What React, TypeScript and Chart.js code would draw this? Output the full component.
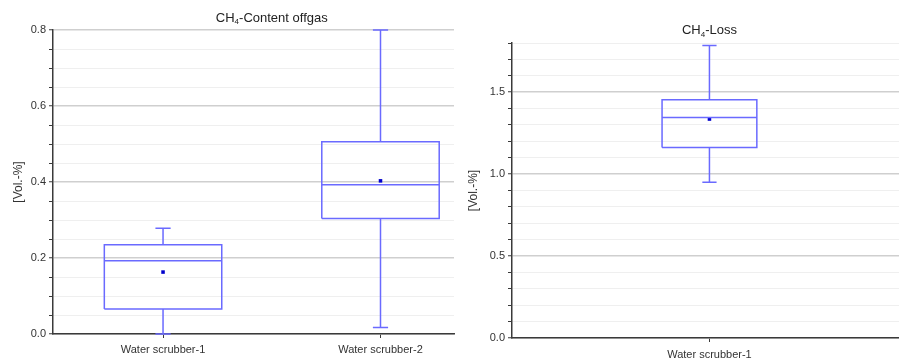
import React, { useEffect, useRef } from 'react';
import { Chart, registerables } from 'chart.js';

Chart.register(...registerables);

const FONT = '"Liberation Sans", Arial, Helvetica, sans-serif';

// ---------- Data: CH4-Content offgas ----------
const contentTitle = ['CH', '4', '-Content offgas'];
const contentCategories = ['Water scrubber-1', 'Water scrubber-2'];
const contentMin = [0.0, 0.017];
const contentQ1 = [0.066, 0.304];
const contentMedian = [0.193, 0.393];
const contentQ3 = [0.235, 0.506];
const contentMax = [0.278, 0.8];
const contentMean = [0.163, 0.403];
const contentYMax = 0.8;
const contentMinorStep = 0.05;
const contentMajorStep = 0.2;

// ---------- Data: CH4-Loss ----------
const lossTitle = ['CH', '4', '-Loss'];
const lossCategories = ['Water scrubber-1'];
const lossMin = [0.951];
const lossQ1 = [1.162];
const lossMedian = [1.346];
const lossQ3 = [1.454];
const lossMax = [1.785];
const lossMean = [1.336];
const lossYMax = 1.8;
const lossMinorStep = 0.1;
const lossMajorStep = 0.5;

const yTitle = '[Vol.-%]';

const BOX_COLOR = '#6a6aff';
const MEAN_COLOR = '#0000cc';
const AXIS_COLOR = '#3a3a3a';

type Pt = { x: number; y: number | null };

function buildSegments(
  min: number[], q1: number[], med: number[], q3: number[], max: number[],
  half: number, cap: number
): Pt[] {
  const pts: Pt[] = [];
  for (let i = 0; i < q1.length; i++) {
    const x = i + 1;
    const brk = () => pts.push({ x, y: null });
    pts.push({ x: x - half, y: q1[i] }, { x: x + half, y: q1[i] }, { x: x + half, y: q3[i] },
      { x: x - half, y: q3[i] }, { x: x - half, y: q1[i] });
    brk();
    pts.push({ x: x - half, y: med[i] }, { x: x + half, y: med[i] });
    brk();
    pts.push({ x, y: q3[i] }, { x, y: max[i] });
    brk();
    pts.push({ x: x - cap, y: max[i] }, { x: x + cap, y: max[i] });
    brk();
    pts.push({ x, y: q1[i] }, { x, y: min[i] });
    brk();
    pts.push({ x: x - cap, y: min[i] }, { x: x + cap, y: min[i] });
    brk();
  }
  return pts;
}

const titlePlugin = {
  id: 'subTitle',
  afterDraw(chart: any, _args: any, opts: any) {
    const { ctx, chartArea, scales } = chart;
    const parts: string[] = opts.parts;
    const cx = scales.x.getPixelForValue(opts.centerValue);
    const cy = chartArea.top - opts.offset;
    ctx.save();
    ctx.fillStyle = '#222';
    ctx.textBaseline = 'middle';
    ctx.textAlign = 'left';
    const mainFont = `13px ${FONT}`;
    const subFont = `8px ${FONT}`;
    ctx.font = mainFont;
    const w0 = ctx.measureText(parts[0]).width;
    const w2 = ctx.measureText(parts[2]).width;
    ctx.font = subFont;
    const w1 = ctx.measureText(parts[1]).width;
    let x = cx - (w0 + w1 + w2) / 2;
    ctx.font = mainFont;
    ctx.fillText(parts[0], x, cy);
    x += w0;
    ctx.font = subFont;
    ctx.fillText(parts[1], x, cy + 4);
    x += w1;
    ctx.font = mainFont;
    ctx.fillText(parts[2], x, cy);
    ctx.restore();
  },
};

interface PanelProps {
  title: string[];
  categories: string[];
  min: number[]; q1: number[]; med: number[]; q3: number[]; max: number[]; mean: number[];
  yMax: number; minorStep: number; majorStep: number;
  xMin: number; xMax: number; half: number; cap: number;
  width: number; height: number;
  padTop: number; padRight: number; yWidth: number; xHeight: number; yTitlePad: number; xLabelPad: number;
  titleOffset: number;
}

function BoxPanel(p: PanelProps) {
  const ref = useRef<HTMLCanvasElement | null>(null);
  useEffect(() => {
    if (!ref.current) return;
    const isMajor = (v: number) => Math.abs(v / p.majorStep - Math.round(v / p.majorStep)) < 1e-6;
    const segs = buildSegments(p.min, p.q1, p.med, p.q3, p.max, p.half, p.cap);
    const means = p.mean.map((m, i) => ({ x: i + 1, y: m }));
    const chart = new Chart(ref.current, {
      type: 'scatter',
      data: {
        datasets: [
          {
            data: segs as any,
            showLine: true,
            spanGaps: false,
            borderColor: BOX_COLOR,
            borderWidth: 1.5,
            pointRadius: 0,
            pointHoverRadius: 0,
            tension: 0,
            clip: false as any,
          },
          {
            data: means as any,
            showLine: false,
            pointStyle: 'rect',
            pointRadius: 2.5,
            pointBackgroundColor: MEAN_COLOR,
            pointBorderWidth: 0,
            clip: false as any,
          },
        ],
      },
      options: {
        animation: false,
        responsive: false,
        events: [],
        layout: { autoPadding: false, padding: { top: p.padTop, left: 0, right: p.padRight, bottom: 0 } },
        plugins: {
          legend: { display: false },
          tooltip: { enabled: false },
          title: { display: false },
          subTitle: {
            parts: p.title,
            centerValue: (1 + p.categories.length) / 2,
            offset: p.titleOffset,
          },
        } as any,
        scales: {
          x: {
            type: 'linear',
            min: p.xMin,
            max: p.xMax,
            afterBuildTicks: (axis: any) => {
              axis.ticks = p.categories.map((_, i) => ({ value: i + 1 }));
            },
            afterFit: (axis: any) => { axis.height = p.xHeight; },
            ticks: {
              autoSkip: false,
              maxRotation: 0,
              padding: p.xLabelPad,
              color: '#333',
              font: { family: FONT, size: 11 },
              callback: (v: any) => {
                const idx = Math.round(Number(v)) - 1;
                return p.categories[idx] ?? '';
              },
            },
            grid: {
              drawOnChartArea: false,
              drawTicks: true,
              tickLength: 4,
              tickColor: AXIS_COLOR,
              tickWidth: 1,
            },
            border: { display: true, color: AXIS_COLOR, width: 1.5 },
          },
          y: {
            type: 'linear',
            min: 0,
            max: p.yMax,
            afterFit: (axis: any) => { axis.width = p.yWidth; },
            ticks: {
              stepSize: p.minorStep,
              autoSkip: false,
              padding: 3,
              color: '#333',
              font: { family: FONT, size: 11 },
              callback: (v: any) => (isMajor(Number(v)) ? Number(v).toFixed(1) : ''),
            },
            grid: {
              color: (c: any) => (isMajor(c.tick.value) ? '#cfcfcf' : '#efefef'),
              lineWidth: (c: any) => (isMajor(c.tick.value) ? 1.5 : 1),
              drawTicks: true,
              tickLength: 4,
              tickColor: AXIS_COLOR,
              tickWidth: 1,
            },
            border: { display: true, color: AXIS_COLOR, width: 1.5 },
            title: {
              display: true,
              text: yTitle,
              color: '#333',
              font: { family: FONT, size: 12 },
              padding: { top: p.yTitlePad, bottom: 0 },
            },
          },
        },
      },
      plugins: [titlePlugin],
    } as any);
    return () => chart.destroy();
  }, []);
  return <canvas ref={ref} width={p.width} height={p.height} style={{ display: 'block' }} />;
}

export default function App() {
  return (
    <div style={{ position: 'fixed', left: 0, top: 0, width: 899, height: 363, overflow: 'hidden', background: '#fff', display: 'flex' }}>
      <BoxPanel
        title={contentTitle}
        categories={contentCategories}
        min={contentMin} q1={contentQ1} med={contentMedian} q3={contentQ3} max={contentMax} mean={contentMean}
        yMax={contentYMax} minorStep={contentMinorStep} majorStep={contentMajorStep}
        xMin={0.494} xMax={2.338} half={0.27} cap={0.035}
        width={460} height={363}
        padTop={30} padRight={6} yWidth={53} xHeight={29} yTitlePad={11} xLabelPad={5}
        titleOffset={12}
      />
      <BoxPanel
        title={lossTitle}
        categories={lossCategories}
        min={lossMin} q1={lossQ1} med={lossMedian} q3={lossQ3} max={lossMax} mean={lossMean}
        yMax={lossYMax} minorStep={lossMinorStep} majorStep={lossMajorStep}
        xMin={0.5} xMax={1.48} half={0.12} cap={0.018}
        width={439} height={363}
        padTop={43} padRight={0} yWidth={52} xHeight={25} yTitlePad={6} xLabelPad={6}
        titleOffset={12.5}
      />
    </div>
  );
}
